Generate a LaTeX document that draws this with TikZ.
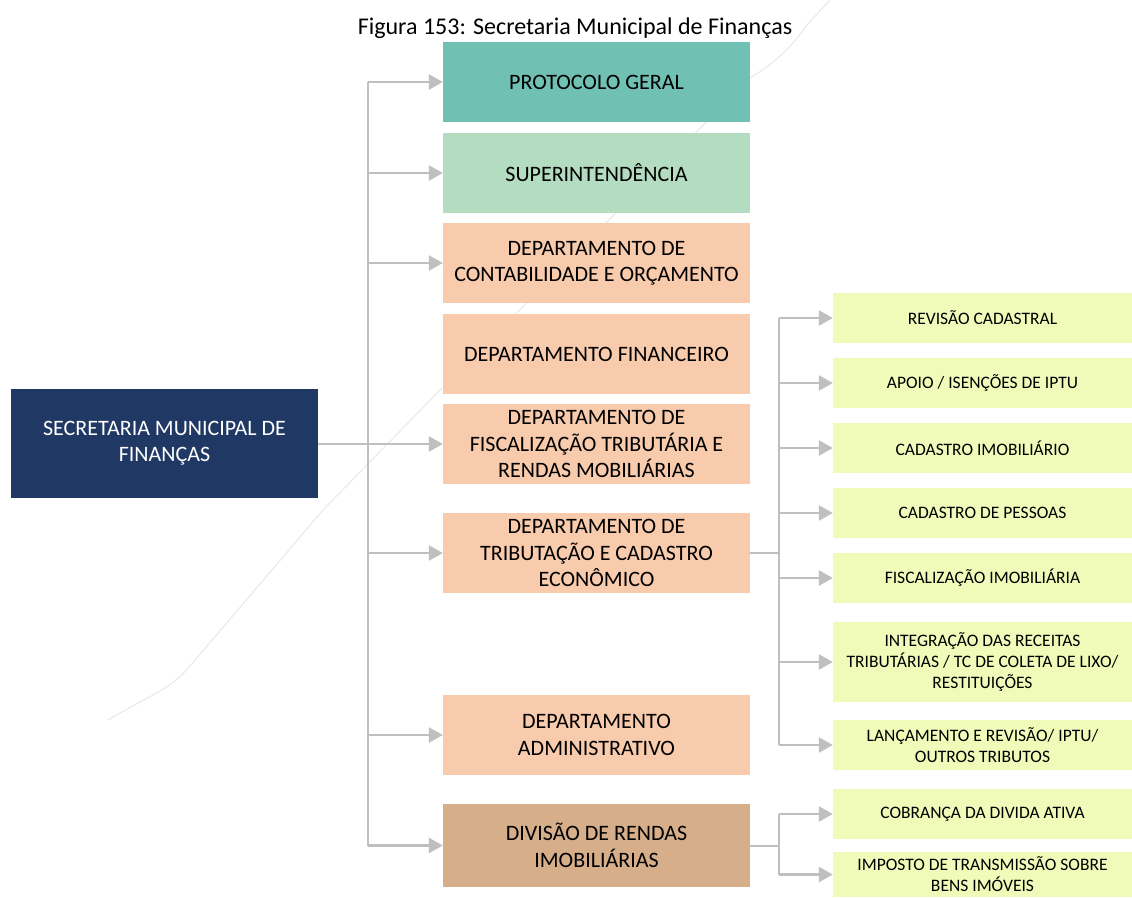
\documentclass[tikz,border=0pt]{standalone}
\usepackage{fontspec}
\setmainfont{Carlito}
\usetikzlibrary{arrows.meta}
\definecolor{navy}{HTML}{203864}
\definecolor{teal}{HTML}{70C1B3}
\definecolor{mint}{HTML}{B3DCC1}
\definecolor{peach}{HTML}{F8CBAD}
\definecolor{tan}{HTML}{D6AE8A}
\definecolor{lime}{HTML}{F0FBBA}
\definecolor{wire}{HTML}{BFBFBF}
\tikzset{
  x=1pt, y=-1pt,
  unitbox/.style={draw=none, inner sep=0pt, align=center, text=black},
  headbox/.style={unitbox, fill=navy, text=white, minimum width=307pt, minimum height=109pt, font=\fontsize{22}{26}\selectfont},
  deptbox/.style={unitbox, minimum width=307pt, minimum height=80pt, font=\fontsize{22}{26.5}\selectfont},
  subbox/.style={unitbox, fill=lime, minimum width=299pt, minimum height=50pt, font=\fontsize{17.5}{21}\selectfont},
  wireline/.style={draw=wire, line width=2.5pt},
  wirearrow/.style={wireline, -{Triangle[length=14pt,width=15pt]}},
}
\begin{document}
\begin{tikzpicture}
\clip (0,0) rectangle (1132,897);
\fill[white] (0,0) rectangle (1132,897);

% faint stray stroke running behind the chart
\draw[gray!18, line width=1pt] (108,720) .. controls (150,695) and (170,690) .. (190,666)
  -- (323,510) -- (443,387) -- (750,78) .. controls (770,66) and (790,50) .. (806,26) -- (830,0);

% title
\node[font=\fontsize{24}{28}\selectfont] (title) at (575,28) {Figura 153: Secretaria Municipal de Finanças};

% head of the secretariat
\node[headbox] (sec) at (164.5,443.5) {SECRETARIA MUNICIPAL DE\\FINANÇAS};

% departments
\node[deptbox, fill=teal]  (prot) at (596.5,82)  {PROTOCOLO GERAL};
\node[deptbox, fill=mint]  (sup)  at (596.5,173) {SUPERINTENDÊNCIA};
\node[deptbox, fill=peach] (cont) at (596.5,263) {DEPARTAMENTO DE\\CONTABILIDADE E ORÇAMENTO};
\node[deptbox, fill=peach] (fin)  at (596.5,354) {DEPARTAMENTO FINANCEIRO};
\node[deptbox, fill=peach] (fisc) at (596.5,444) {DEPARTAMENTO DE\\FISCALIZAÇÃO TRIBUTÁRIA E\\RENDAS MOBILIÁRIAS};
\node[deptbox, fill=peach] (trib) at (596.5,553) {DEPARTAMENTO DE\\TRIBUTAÇÃO E CADASTRO\\ECONÔMICO};
\node[deptbox, fill=peach] (adm)  at (596.5,735) {DEPARTAMENTO\\ADMINISTRATIVO};
\node[deptbox, fill=tan, minimum height=83pt] (div) at (596.5,845.5) {DIVISÃO DE RENDAS\\IMOBILIÁRIAS};

% sections
\node[subbox] (rev)   at (982.5,318) {REVISÃO CADASTRAL};
\node[subbox] (apoio) at (982.5,383) {APOIO / ISENÇÕES DE IPTU};
\node[subbox] (cimob) at (982.5,448) {CADASTRO IMOBILIÁRIO};
\node[subbox] (cpes)  at (982.5,513) {CADASTRO DE PESSOAS};
\node[subbox] (fimob) at (982.5,578) {FISCALIZAÇÃO IMOBILIÁRIA};
\node[subbox, minimum height=80pt] (integ) at (982.5,662) {INTEGRAÇÃO DAS RECEITAS\\TRIBUTÁRIAS / TC DE COLETA DE LIXO/\\RESTITUIÇÕES};
\node[subbox] (lanc)  at (982.5,745) {LANÇAMENTO E REVISÃO/ IPTU/\\OUTROS TRIBUTOS};
\node[subbox] (cobr)  at (982.5,814) {COBRANÇA DA DIVIDA ATIVA};
\node[subbox, minimum height=45pt] (itbi) at (982.5,874.5) {IMPOSTO DE TRANSMISSÃO SOBRE\\BENS IMÓVEIS};

% junction points
\coordinate (top)  at (368,82);
\coordinate (bot)  at (368,846);
\coordinate (tj)   at (779,553);
\coordinate (dj)   at (779,846);

% main trunk
\draw[wireline] (top) -- (bot);
\draw[wirearrow] (sec.east |- fisc.west) -- (fisc.west);
\foreach \n in {prot,sup,cont,trib,adm,div}
  \draw[wirearrow] (top |- \n.west) -- (\n.west);

% tributação branch
\draw[wireline] (trib.east) -- (tj);
\draw[wireline] (tj |- rev.west) -- (tj |- lanc.west);
\foreach \n in {rev,apoio,cimob,cpes,fimob,integ,lanc}
  \draw[wirearrow] (tj |- \n.west) -- (\n.west);

% divisão branch
\draw[wireline] (div.east |- dj) -- (dj);
\draw[wireline] (dj |- cobr.west) -- (dj |- itbi.west);
\foreach \n in {cobr,itbi}
  \draw[wirearrow] (dj |- \n.west) -- (\n.west);
\end{tikzpicture}
\end{document}
